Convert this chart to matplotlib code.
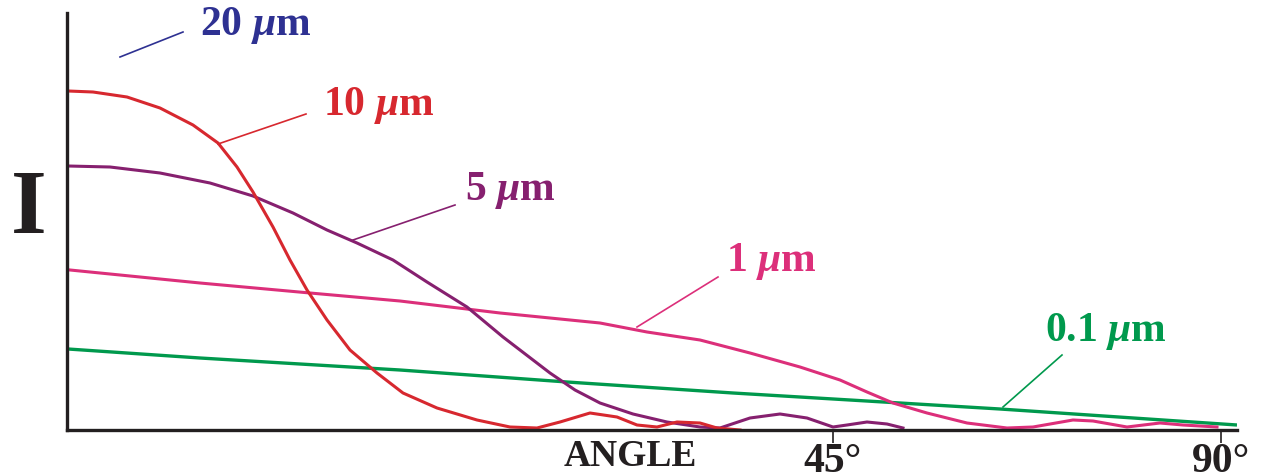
import matplotlib
matplotlib.use('Agg')
import matplotlib.pyplot as plt

# angle axis in arbitrary chart units (45 deg at 766, 90 deg at 1154), intensity arbitrary
red_x = [1, 26, 60, 93, 126, 151, 170, 186, 206, 223, 240, 260, 283, 310, 336, 370, 410, 443,
         470, 493, 523, 550, 570, 590, 610, 633, 650, 673]
red_y = [339, 338, 333, 322, 305, 287, 263, 238, 203, 170, 140, 110, 80, 57, 37, 22, 10, 3,
         2, 8, 17, 13, 5, 3, 8, 7, 2, 0]

purple_x = [1, 43, 93, 143, 186, 226, 260, 290, 326, 360, 400, 436, 483, 508, 533, 566, 600,
            633, 653, 683, 713, 740, 766, 780, 800, 820, 836]
purple_y = [264, 263, 257, 247, 234, 217, 200, 187, 170, 148, 123, 93, 57, 40, 27, 16, 8,
            3, 2, 12, 16, 12, 3, 5, 8, 6, 2]

pink_x = [3, 133, 243, 333, 433, 533, 580, 633, 683, 733, 773, 800, 826, 860, 900, 940, 966,
          1006, 1026, 1060, 1093, 1116, 1150]
pink_y = [160, 147, 137, 129, 117, 107, 98, 90, 77, 63, 50, 38, 27, 17, 7, 2, 3,
          10, 9, 3, 7, 5, 3]

green_x = [1, 133, 333, 500, 666, 833, 933, 1170]
green_y = [81, 72, 60, 48, 37, 27, 21, 5]

tick_pos = [766, 1154]
tick_labels = ['45°', '90°']

plt.rcParams['mathtext.fontset'] = 'custom'
plt.rcParams['mathtext.rm'] = 'Liberation Serif:bold'
plt.rcParams['mathtext.it'] = 'Liberation Serif:italic:bold'
plt.rcParams['font.family'] = 'Liberation Serif'

fig = plt.figure(figsize=(12.63, 4.73), dpi=100)
ax = fig.add_axes([67 / 1263, 43 / 473, 1170 / 1263, 417 / 473])

ax.plot(green_x, green_y, color='#00994D', lw=2.4, solid_capstyle='butt')
ax.plot(pink_x, pink_y, color='#DC2F7A', lw=2.2, solid_joinstyle='round')
ax.plot(purple_x, purple_y, color='#86206F', lw=2.2, solid_joinstyle='round')
ax.plot(red_x, red_y, color='#D7282F', lw=2.2, solid_joinstyle='round')

ax.set_xlim(0, 1170)
ax.set_ylim(0, 417)
for s in ['top', 'right']:
    ax.spines[s].set_visible(False)
for s in ['left', 'bottom']:
    ax.spines[s].set_linewidth(2.4)
    ax.spines[s].set_color('#231F20')
ax.set_yticks([])
ax.set_xticks(tick_pos)
ax.set_xticklabels(tick_labels, fontsize=30, fontweight='bold', color='#231F20')
ax.tick_params(axis='x', length=9, width=1.2, color='#231F20', pad=0)

# labels with leader lines
labels = [
    ('20 $\\mu$m', '#2E3192', (53, 373), (116, 398), (133, 405)),
    ('10 $\\mu$m', '#D7282F', (151, 286), (239, 316), (256, 325)),
    ('5 $\\mu$m', '#86206F', (286, 190), (388, 225), (398, 240)),
    ('1 $\\mu$m', '#DC2F7A', (570, 103), (651, 153), (659, 169)),
    ('0.1 $\\mu$m', '#00994D', (936, 23), (995, 75), (978, 99)),
]
for txt, c, p0, p1, tp in labels:
    ax.plot([p0[0], p1[0]], [p0[1], p1[1]], color=c, lw=1.2, clip_on=False)
    ax.text(tp[0], tp[1], txt, color=c, fontsize=30, fontweight='bold',
            ha='left', va='center', clip_on=False)

ax.text(563, -9, 'ANGLE', fontsize=27, fontweight='bold', color='#231F20',
        ha='center', va='top', clip_on=False)
fig.text(29 / 1263, 1 - 211 / 473, 'I', fontsize=66, fontweight='bold', color='#231F20',
         ha='center', va='center')

fig.savefig('out.png', dpi=100)
